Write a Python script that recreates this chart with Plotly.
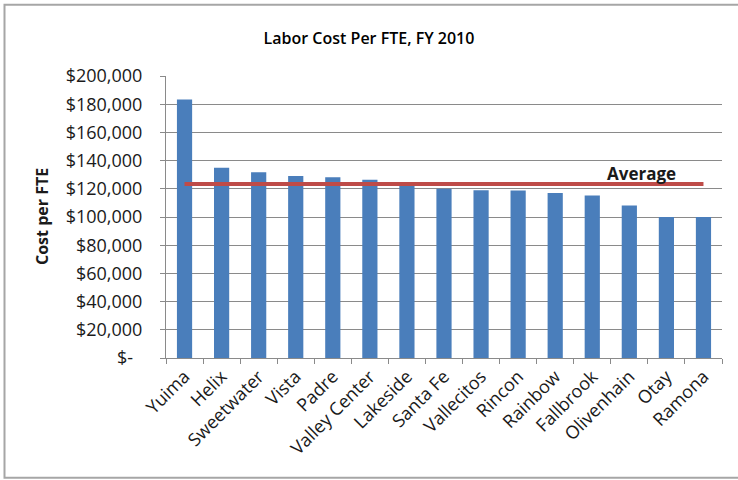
import plotly.graph_objects as go

categories = ["Yuima", "Helix", "Sweetwater", "Vista", "Padre", "Valley Center",
              "Lakeside", "Santa Fe", "Vallecitos", "Rincon", "Rainbow",
              "Fallbrook", "Olivenhain", "Otay", "Ramona"]
cost_per_fte = [183300, 135000, 131700, 129100, 128200, 126500,
                124100, 120100, 118900, 118800, 117000,
                115200, 108100, 100000, 100000]
average_cost = 123400

y_tick_vals = [0, 20000, 40000, 60000, 80000, 100000, 120000, 140000,
               160000, 180000, 200000]
y_tick_text = ["$-\u00a0\u00a0", "$20,000", "$40,000", "$60,000", "$80,000",
               "$100,000", "$120,000", "$140,000", "$160,000", "$180,000",
               "$200,000"]

FONT = "Open Sans"
TEXT = "#1a1a1a"
GRID = "#8a8a8a"

fig = go.Figure()
fig.add_trace(go.Bar(
    x=categories, y=cost_per_fte,
    marker=dict(color="#4A7EBB", line=dict(width=0)),
    showlegend=False, hoverinfo="x+y",
))
fig.add_trace(go.Scatter(
    x=[categories[0], categories[-1]], y=[average_cost, average_cost],
    mode="lines", line=dict(color="#BE4B48", width=4),
    showlegend=False, hoverinfo="y",
))

fig.update_layout(
    width=738, height=480,
    margin=dict(l=166, r=16, t=76, b=122),
    paper_bgcolor="white", plot_bgcolor="white",
    bargap=0.59,
    font=dict(family=FONT, color=TEXT),
    title=dict(text="Labor Cost Per FTE, FY 2010", x=0.5, xref="container",
               y=1 - 38 / 480, yref="container", yanchor="middle",
               font=dict(family=FONT, size=16, weight=600, color="#000000")),
    xaxis=dict(
        type="category", tickangle=-45, tickson="boundaries",
        ticks="outside", ticklen=5, tickcolor=GRID,
        showline=True, linecolor=GRID, linewidth=1,
        showgrid=False, automargin=False,
        tickfont=dict(family=FONT, size=18, color=TEXT),
    ),
    yaxis=dict(
        range=[0, 200000], tickvals=y_tick_vals, ticktext=y_tick_text,
        ticks="outside", ticklen=5, tickcolor=GRID,
        showline=True, linecolor=GRID, linewidth=1,
        showgrid=True, gridcolor=GRID, gridwidth=1,
        zeroline=False, automargin=False, ticklabelstandoff=14,
        tickfont=dict(family=FONT, size=18, color=TEXT),
    ),
    annotations=[
        dict(text="<b>Cost per FTE</b>", textangle=-90, xref="paper", yref="paper",
             x=(42 - 166) / 556, y=0.5, showarrow=False,
             xanchor="center", yanchor="middle",
             font=dict(family=FONT, size=16, color=TEXT)),
        dict(text="<b>Average</b>", xref="paper", yref="y",
             x=(641.5 - 166) / 556, y=131200, showarrow=False,
             xanchor="center", yanchor="middle",
             font=dict(family=FONT, size=17, color=TEXT)),
    ],
    shapes=[
        dict(type="rect", xref="paper", yref="paper",
             x0=(4.5 - 166) / 556, x1=(745 - 166) / 556,
             y0=(357.7 - 477.5) / 282, y1=(357.7 - 4.5) / 282,
             line=dict(color="#a6a6a6", width=2), layer="below"),
    ],
)

fig.write_html("out.html")
